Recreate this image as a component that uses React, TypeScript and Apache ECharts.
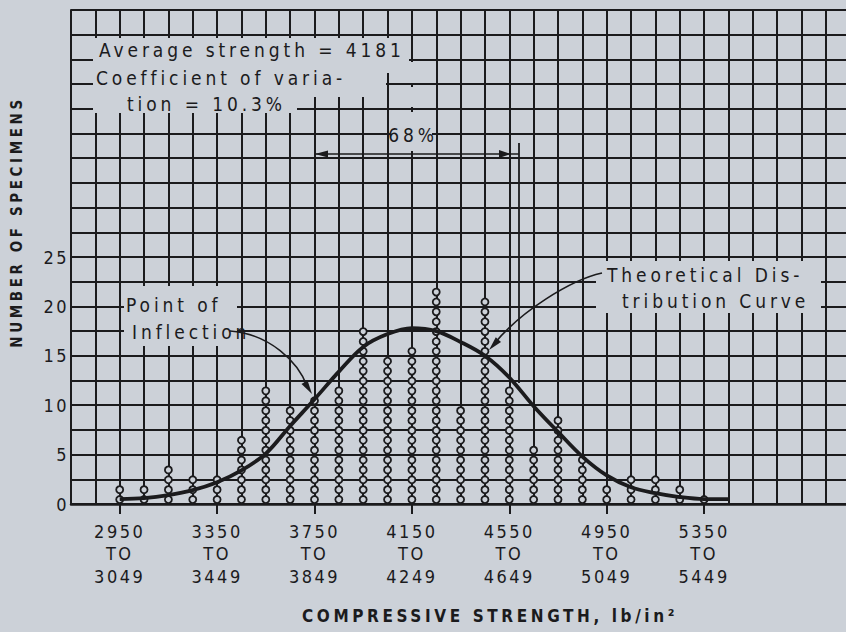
import React, { useEffect, useRef } from "react";
import * as echarts from "echarts";

// ---- data ----
// bin index 0 = 2950–3049, 1 = 3050–3149, ... 24 = 5350–5449
const BIN_LOWER = [2950, 3050, 3150, 3250, 3350, 3450, 3550, 3650, 3750, 3850, 3950, 4050, 4150, 4250, 4350, 4450, 4550, 4650, 4750, 4850, 4950, 5050, 5150, 5250, 5350];
const SPECIMEN_COUNTS = [2, 2, 4, 3, 3, 7, 12, 10, 11, 12, 18, 15, 16, 22, 10, 21, 12, 6, 9, 5, 2, 3, 3, 2, 1];
const CURVE_BINS = [0, 1, 2, 3, 4, 5, 6, 7, 8, 9, 10, 11, 12, 13, 14, 15, 16, 17, 18, 19, 20, 21, 22, 23, 24, 25];
const CURVE_VALUES = [0.5, 0.6, 0.9, 1.4, 2.2, 3.4, 5.1, 7.9, 10.6, 13.4, 15.9, 17.2, 17.8, 17.5, 16.4, 15.0, 12.8, 9.9, 7.3, 4.8, 2.9, 1.7, 1.1, 0.7, 0.5, 0.5];
const LABELED_BINS = [0, 4, 8, 12, 16, 20, 24];
const X_TICK_LABELS = ["2950\nTO\n3049", "3350\nTO\n3449", "3750\nTO\n3849", "4150\nTO\n4249", "4550\nTO\n4649", "4950\nTO\n5049", "5350\nTO\n5449"];
const Y_TICK_LABELS = [0, 5, 10, 15, 20, 25];

const AVG_TEXT = "Average strength = 4181";
const COV_TEXT_1 = "Coefficient of varia-";
const COV_TEXT_2 = "tion = 10.3%";
const PCT_TEXT = "68%";
const INFL_TEXT_1 = "Point of";
const INFL_TEXT_2 = "Inflection";
const THEO_TEXT_1 = "Theoretical Dis-";
const THEO_TEXT_2 = "tribution Curve";
const X_NAME = "COMPRESSIVE STRENGTH, lb/in²";
const Y_NAME = "NUMBER OF SPECIMENS";

const BG = "#ccd1d8";
const INK = "#1b1b1d";
const FONT_ANN = `"DejaVu Sans Condensed", annotfont, "Liberation Sans Narrow", sans-serif`;
const FONT_TICK = `"DejaVu Sans Condensed", tickfont, "Liberation Sans Narrow", sans-serif`;
const FONT_TITLE = `"DejaVu Sans Condensed", titlefont, "Liberation Sans Narrow", sans-serif`;

export default function App() {
  const ref = useRef<HTMLDivElement>(null);

  useEffect(() => {
    if (!ref.current) return;
    const chart = echarts.init(ref.current, null, { renderer: "svg" });

    const dots: number[][] = [];
    SPECIMEN_COUNTS.forEach((n, i) => {
      for (let k = 1; k <= n; k++) dots.push([i, k - 0.55]);
    });
    const curve = CURVE_BINS.map((b, i) => [b, CURVE_VALUES[i]]);

    const text = (x: number, y: number, t: string, extra: any = {}) => ({
      type: "text",
      x,
      y,
      z: 10,
      style: {
        text: t,
        fill: INK,
        font: `19px ${FONT_ANN}`,
        textAlign: "left",
        textVerticalAlign: "middle",
        ...extra,
      },
    });
    const mask = (x: number, y: number, w: number, h: number) => ({
      type: "rect",
      z: 1,
      shape: { x, y, width: w, height: h },
      style: { fill: BG },
      silent: true,
    });

    chart.setOption({
      animation: false,
      backgroundColor: BG,
      grid: { left: 71, top: 10, width: 827.9, height: 494, outerBoundsMode: "none", containLabel: false },
      xAxis: [
        {
          type: "value",
          min: -2,
          max: 32,
          interval: 1,
          position: "bottom",
          axisLine: { show: false },
          axisTick: { show: false },
          axisLabel: { show: false },
          splitLine: { show: true, lineStyle: { color: INK, width: 2 } },
        },
        {
          type: "value",
          min: -2,
          max: 32,
          position: "bottom",
          axisLine: { show: true, onZero: false, lineStyle: { color: INK, width: 2.5 } },
          axisTick: { show: true, customValues: LABELED_BINS, length: 10, lineStyle: { color: INK, width: 2 } },
          axisLabel: {
            show: true,
            customValues: LABELED_BINS,
            formatter: (v: number) => {
              const i = LABELED_BINS.indexOf(Math.round(v));
              return i >= 0 ? X_TICK_LABELS[i] : "";
            },
            color: INK,
            fontFamily: FONT_TICK,
            fontSize: 18,
            lineHeight: 22.5,
            margin: 16,
          },
          splitLine: { show: false },
        },
      ],
      yAxis: {
        type: "value",
        min: 0,
        max: 50,
        interval: 2.5,
        axisLine: { show: true, onZero: false, lineStyle: { color: INK, width: 2 } },
        axisTick: { show: false },
        axisLabel: {
          formatter: (v: number) => (Y_TICK_LABELS.includes(v) ? String(v) : ""),
          color: INK,
          fontFamily: FONT_TICK,
          fontSize: 18,
          margin: 2,
        },
        splitLine: { show: true, lineStyle: { color: INK, width: 2 } },
      },
      series: [
        {
          type: "scatter",
          xAxisIndex: 0,
          data: dots,
          symbol: "circle",
          symbolSize: 7,
          z: 3,
          itemStyle: { color: BG, borderColor: INK, borderWidth: 1.8, opacity: 1 },
        },
        {
          type: "line",
          xAxisIndex: 0,
          data: curve,
          smooth: 0.35,
          showSymbol: false,
          symbol: "none",
          z: 4,
          lineStyle: { color: INK, width: 3.8 },
        },
      ],
      graphic: [
        {
          type: "polygon",
          z: 1,
          silent: true,
          shape: { points: [[93, 38], [409, 38], [409, 73], [386, 73], [386, 97], [297, 97], [297, 113], [93, 113]] },
          style: { fill: BG },
        },
        mask(408, 62, 8, 21),
        mask(408, 87, 8, 20),
        mask(390, 112, 42, 39),
        mask(124, 286, 113, 60),
        mask(596, 261, 225, 52),
        text(99, 50, AVG_TEXT),
        text(96, 78, COV_TEXT_1),
        text(127, 104, COV_TEXT_2),
        text(413, 135, PCT_TEXT, { textAlign: "center" }),
        text(126, 305, INFL_TEXT_1),
        text(132, 332, INFL_TEXT_2),
        text(607, 275, THEO_TEXT_1),
        text(622, 301, THEO_TEXT_2),
        text(490, 616, X_NAME, { textAlign: "center", font: `bold 17px ${FONT_TITLE}` }),
        {
          type: "text",
          x: 17,
          y: 222,
          rotation: Math.PI / 2,
          z: 10,
          style: {
            text: Y_NAME,
            fill: INK,
            font: `bold 15px ${FONT_TITLE}`,
            textAlign: "center",
            textVerticalAlign: "middle",
          },
        },
        { type: "line", z: 6, shape: { x1: 315, y1: 154, x2: 519, y2: 154 }, style: { stroke: INK, lineWidth: 1.6 } },
        { type: "line", z: 6, shape: { x1: 519, y1: 143, x2: 519, y2: 383 }, style: { stroke: INK, lineWidth: 1.8 } },
        { type: "polygon", z: 6, shape: { points: [[315, 154], [328, 150.5], [328, 157.5]] }, style: { fill: INK } },
        { type: "polygon", z: 6, shape: { points: [[511, 154], [499, 150], [499, 158]] }, style: { fill: INK } },
        {
          type: "bezierCurve",
          z: 6,
          shape: { x1: 230, y1: 331, cpx1: 270, cpy1: 334, cpx2: 298, cpy2: 362, x2: 307, y2: 386 },
          style: { stroke: INK, lineWidth: 1.6, fill: "none" },
        },
        { type: "polygon", z: 6, shape: { points: [[312, 394], [301.5, 384.1], [307.5, 380.3]] }, style: { fill: INK } },
        {
          type: "bezierCurve",
          z: 6,
          shape: { x1: 602, y1: 273, cpx1: 570, cpy1: 280, cpx2: 520, cpy2: 312, x2: 494, y2: 344 },
          style: { stroke: INK, lineWidth: 1.6, fill: "none" },
        },
        { type: "polygon", z: 6, shape: { points: [[489, 350], [501, 342], [495.8, 337.3]] }, style: { fill: INK } },
      ],
    });

    return () => chart.dispose();
  }, []);

  return (
    <>
      <style>{`
        .chart-host svg text { letter-spacing: 2.5px; }
        .chart-host svg text[style*="annotfont"] { letter-spacing: 3.9px; }
        .chart-host svg text[style*="tickfont"] { letter-spacing: 2.5px; }
        .chart-host svg text[style*="titlefont"] { letter-spacing: 3.6px; }
      `}</style>
      <div
        ref={ref}
        className="chart-host"
        style={{ position: "absolute", left: 0, top: 0, width: 846, height: 632, background: BG, overflow: "hidden" }}
      />
    </>
  );
}
